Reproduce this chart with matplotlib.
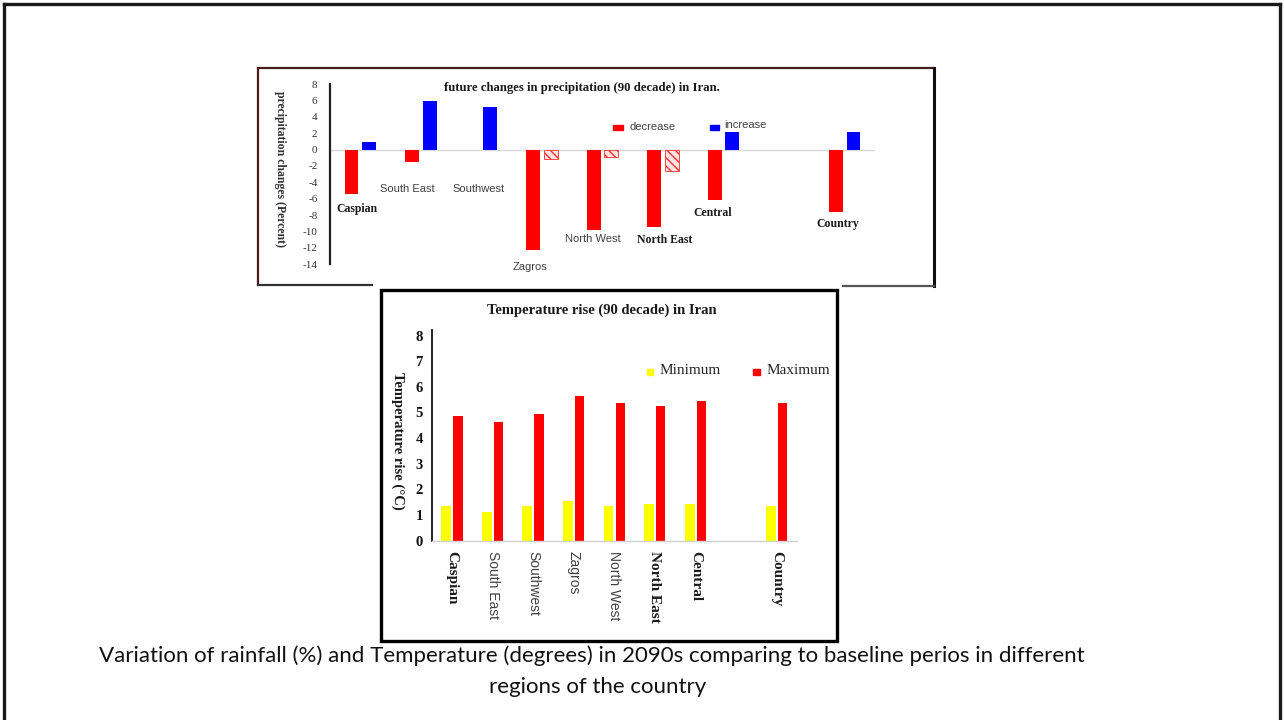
import matplotlib
matplotlib.use("Agg")
import matplotlib.pyplot as plt
import numpy as np
from matplotlib.patches import Rectangle
from matplotlib.lines import Line2D

# data
regions = ['Caspian', 'South East', 'Southwest', 'Zagros', 'North West', 'North East', 'Central', 'Country']
precip_decrease = [-5.4, -1.5, 0.0, -12.3, -9.8, -9.4, -6.2, -7.6]
precip_increase = [0.9, 5.9, 5.2, -1.2, -0.9, -2.6, 2.1, 2.1]
temp_min = [1.34, 1.11, 1.34, 1.53, 1.34, 1.43, 1.43, 1.34]
temp_max = [4.85, 4.62, 4.93, 5.66, 5.36, 5.25, 5.45, 5.36]
precip_ticks = list(range(-14, 9, 2))
temp_ticks = list(range(0, 9))

caption1 = 'Variation of rainfall (%) and Temperature (degrees) in 2090s comparing to baseline perios in different'
caption2 = 'regions of the country'

# layout helpers
W, H = 1284, 720
slots = np.array([0, 1, 2, 3, 4, 5, 6, 8])  # Country sits after an empty slot
bold_names = {'Caspian', 'North East', 'Central', 'Country'}
SERIF = 'Liberation Serif'
SANS = 'Liberation Sans'


def box(x0, y0, x1, y1):
    return [x0 / W, 1 - y1 / H, (x1 - x0) / W, (y1 - y0) / H]


def name_style(name, big=False):
    if name in bold_names:
        return dict(family=SERIF, weight='bold', size=11 if big else 8.5, color='#1a1a1a')
    return dict(family=SANS, size=10 if big else 8, color='#404040')


fig = plt.figure(figsize=(W / 100, H / 100), dpi=100)

# background layer for frames and free text
bg = fig.add_axes([0, 0, 1, 1])
bg.set_xlim(0, W)
bg.set_ylim(H, 0)
bg.axis('off')

def seg(x0, y0, x1, y1, color, lw):
    bg.add_line(Line2D([x0, x1], [y0, y1], color=color, lw=lw, solid_capstyle='projecting'))

# outer frame
seg(4, 4, 1280, 4, '#1a1a1a', 2.4)
seg(4, 4, 4, 720, '#1a1a1a', 2.4)
seg(1280, 4, 1280, 720, '#1a1a1a', 2.4)
# top panel frame
seg(258, 68, 934, 68, '#4a1c1c', 1.6)
seg(258, 68, 258, 285, '#4a1c1c', 1.6)
seg(258, 285, 372, 285, '#333333', 1.6)
seg(934, 68, 934, 286, '#111111', 2.2)
seg(843, 286, 934, 286, '#555555', 1.6)
# lower panel frame
bg.add_patch(Rectangle((381, 290), 456, 351, fill=False, edgecolor='black', lw=2.4))

# ---- precipitation chart ----
ax1 = fig.add_axes(box(330, 84, 875, 264.3))
ax1.patch.set_alpha(0)
ax1.bar(slots - 0.145, precip_decrease, width=0.23, color='#ff0000')
inc = ax1.bar(slots + 0.145, precip_increase, width=0.23, color='#0000ff')
for p, v in zip(inc.patches, precip_increase):
    if v < 0:
        p.set_facecolor('#ffe4e4')
        p.set_edgecolor('#ff3030')
        p.set_hatch('\\\\\\\\')
        p.set_linewidth(0.6)
ax1.axhline(0, color='#d9d9d9', lw=1, zorder=0)
ax1.set_xlim(-0.5, 8.5)
ax1.set_ylim(-14, 8)
ax1.set_yticks(precip_ticks)
ax1.set_yticklabels([str(t) for t in precip_ticks], family=SERIF, size=8, color='#333333')
ax1.tick_params(axis='y', length=0, pad=9)
ax1.set_xticks([])
for s in ['top', 'right', 'bottom']:
    ax1.spines[s].set_visible(False)
ax1.spines['left'].set_linewidth(1.6)
ax1.spines['left'].set_color('#222222')
ax1.set_ylabel('precipitation changes (Percent)', rotation=270, family=SERIF,
               weight='bold', size=8.5, color='#333333', va='center', ha='center')
ax1.yaxis.set_label_coords(-0.0917, 0.531)

label_pos = [(-0.06, -7.25), (0.78, -4.81), (1.96, -4.81), (2.81, -14.33),
             (3.84, -10.91), (5.02, -11.04), (5.82, -7.74), (7.89, -9.08)]
for name, (lx, ly) in zip(regions, label_pos):
    ax1.text(lx, ly, name, ha='center', va='center', **name_style(name))

bg.text(582, 88, 'future changes in precipitation (90 decade) in Iran.', ha='center', va='center',
        family=SERIF, weight='bold', size=9.2, color='#1a1a1a')
bg.add_patch(Rectangle((613, 125), 10, 5, color='#ff0000'))
bg.text(630, 127.3, 'decrease', ha='left', va='center', family=SANS, size=8, color='#404040')
bg.add_patch(Rectangle((710, 125), 9, 5, color='#0000ff'))
bg.text(724, 124.5, 'increase', ha='left', va='center', family=SANS, size=8, color='#404040')

# ---- temperature chart ----
ax2 = fig.add_axes(box(431.7, 329.7, 797, 540.5))
ax2.patch.set_alpha(0)
ax2.bar(slots - 0.145, temp_min, width=0.24, color='#ffff00')
ax2.bar(slots + 0.145, temp_max, width=0.23, color='#ff0000')
ax2.set_xlim(-0.5, 8.5)
ax2.set_ylim(0, 8.23)
ax2.set_yticks(temp_ticks)
ax2.set_yticklabels([str(t) for t in temp_ticks], family=SERIF, weight='bold', size=10.5, color='#111111')
ax2.tick_params(axis='y', length=0, pad=6.5)
ax2.set_xticks(slots)
ax2.set_xticklabels(regions, rotation=270, va='top', ha='center')
for lab in ax2.get_xticklabels():
    st = name_style(lab.get_text(), big=True)
    lab.set_family(st['family'])
    lab.set_size(st['size'])
    lab.set_color(st['color'])
    if 'weight' in st:
        lab.set_weight(st['weight'])
ax2.tick_params(axis='x', length=0, pad=7.5)
for s in ['top', 'right']:
    ax2.spines[s].set_visible(False)
ax2.spines['left'].set_linewidth(1.3)
ax2.spines['left'].set_color('#111111')
ax2.spines['bottom'].set_color('#d0d0d0')
ax2.spines['bottom'].set_linewidth(1)
ax2.set_ylabel('Temperature rise (°C)', rotation=270, family=SERIF, weight='bold',
               size=10.5, color='#1a1a1a', va='center', ha='center')
ax2.yaxis.set_label_coords(-0.0923, 0.474)

bg.text(601.5, 310, 'Temperature rise (90 decade) in Iran', ha='center', va='center',
        family=SERIF, weight='bold', size=10.5, color='#1a1a1a')
bg.add_patch(Rectangle((647, 369), 6, 6, color='#ffff00'))
bg.text(660, 370, 'Minimum', ha='left', va='center', family=SERIF, size=11, color='#262626')
bg.add_patch(Rectangle((753, 369), 7, 6, color='#ff0000'))
bg.text(767, 370, 'Maximum', ha='left', va='center', family=SERIF, size=11, color='#262626')

# caption
bg.text(592, 656, caption1, ha='center', va='center', family='Lato', size=16, color='#111111')
bg.text(598, 687, caption2, ha='center', va='center', family='Lato', size=16, color='#111111')

fig.savefig('out.png', dpi=100)
